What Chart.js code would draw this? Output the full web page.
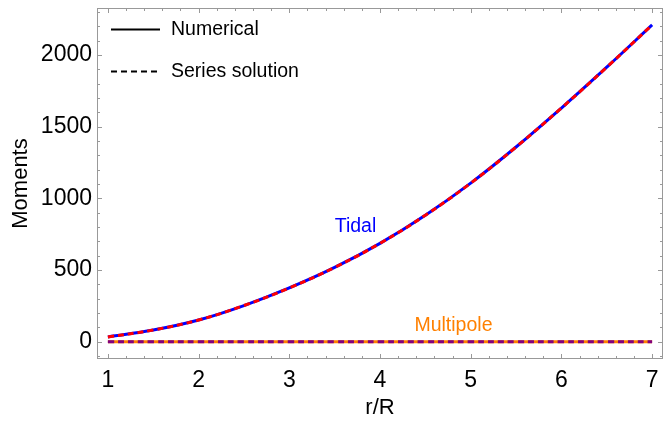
<!DOCTYPE html>
<html>
<head>
<meta charset="utf-8">
<script src="https://cdn.jsdelivr.net/npm/chart.js@4"></script>
<style>
  html, body { margin: 0; padding: 0; background: #fff; }
</style>
</head>
<body>
<canvas id="mychart" width="664" height="423"></canvas>
<script>
// values
const rValues = [1, 1.5, 2, 2.5, 3, 3.5, 4, 4.5, 5, 5.5, 6, 6.5, 7];
const tidalNumerical = [33, 81, 151, 252, 375, 518, 686, 882, 1106, 1358, 1630, 1915, 2210];
const tidalSeries = [33, 81, 151, 252, 375, 518, 686, 882, 1106, 1358, 1630, 1915, 2210];
const multipoleNumerical = [0, 0, 0, 0, 0, 0, 0, 0, 0, 0, 0, 0, 0];
const multipoleSeries = [0, 0, 0, 0, 0, 0, 0, 0, 0, 0, 0, 0, 0];
const xTicks = [1, 2, 3, 4, 5, 6, 7];
const yTicks = [0, 500, 1000, 1500, 2000];
const legendLabels = ['Numerical', 'Series solution'];
const curveLabels = ['Tidal', 'Multipole'];

const FONT = "'Liberation Sans', Arial, sans-serif";
const BLUE = 'rgb(0,0,255)';
const RED = 'rgb(255,0,0)';
const ORANGE = 'rgb(255,128,0)';
const PURPLE = 'rgb(128,0,128)';

function toPoints(ys) {
    return rValues.map((r, i) => ({ x: r, y: ys[i] }));
}

// lower "order" is drawn on top
function line(data, color, dash, order) {
    return {
        data: toPoints(data),
        borderColor: color,
        borderWidth: 3,
        borderDash: dash,
        pointRadius: 0,
        tension: 0.4,
        fill: false,
        order: order
    };
}

// frame with inward ticks, legend and curve labels --
const framePlugin = {
    id: 'framePlugin',
    afterDraw: (chart) => {
        const { ctx, chartArea: a, scales: { x, y } } = chart;
        ctx.save();
        ctx.strokeStyle = '#999';
        ctx.lineWidth = 1;
        ctx.strokeRect(a.left + 0.5, a.top + 0.5, a.right - a.left - 1, a.bottom - a.top - 1);

        ctx.beginPath();
        for (let i = 5; i <= 35; i++) {
            const px = Math.round(x.getPixelForValue(i / 5)) + 0.5;
            const len = (i % 5 === 0) ? 5 : 3;
            ctx.moveTo(px, a.bottom); ctx.lineTo(px, a.bottom - len);
            ctx.moveTo(px, a.top); ctx.lineTo(px, a.top + len);
        }
        for (let v = -100; v <= 2300; v += 100) {
            const py = Math.round(y.getPixelForValue(v)) + 0.5;
            const len = (v % 500 === 0) ? 5 : 3;
            ctx.moveTo(a.left, py); ctx.lineTo(a.left + len, py);
            ctx.moveTo(a.right, py); ctx.lineTo(a.right - len, py);
        }
        ctx.stroke();

        // legend
        ctx.strokeStyle = '#000';
        ctx.lineWidth = 2;
        ctx.beginPath();
        ctx.moveTo(111, 29.5); ctx.lineTo(160, 29.5);
        ctx.stroke();
        ctx.setLineDash([6, 4]);
        ctx.beginPath();
        ctx.moveTo(111, 71.5); ctx.lineTo(160, 71.5);
        ctx.stroke();
        ctx.setLineDash([]);

        ctx.fillStyle = '#000';
        ctx.font = '19.5px ' + FONT;
        ctx.textBaseline = 'middle';
        ctx.textAlign = 'left';
        ctx.fillText(legendLabels[0], 171, 30);
        ctx.fillText(legendLabels[1], 171, 72);

        // curve labels
        ctx.textAlign = 'center';
        ctx.fillStyle = BLUE;
        ctx.fillText(curveLabels[0], x.getPixelForValue(3.73), y.getPixelForValue(805));
        ctx.fillStyle = ORANGE;
        ctx.fillText(curveLabels[1], x.getPixelForValue(4.81), y.getPixelForValue(115));
        ctx.restore();
    }
};

const ctx = document.getElementById('mychart').getContext('2d');

const chart = new Chart(ctx, {
    type: 'line',
    data: {
        datasets: [
            line(tidalNumerical, BLUE, [], 2),
            line(tidalSeries, RED, [6, 4], 1),
            line(multipoleNumerical, ORANGE, [], 4),
            line(multipoleSeries, PURPLE, [6, 4], 3)
        ]
    },
    options: {
        responsive: false,
        animation: false,
        devicePixelRatio: 1,
        layout: { padding: { top: 8, right: 1, left: 0, bottom: 0 } },
        plugins: {
            legend: { display: false },
            tooltip: { enabled: false }
        },
        scales: {
            x: {
                type: 'linear',
                min: 0.88,
                max: 7.12,
                grid: { display: false, drawTicks: false, tickLength: 0 },
                border: { display: false },
                afterBuildTicks: (s) => { s.ticks = xTicks.map(v => ({ value: v })); },
                afterFit: (s) => { s.height = 64; s.paddingLeft = 0; s.paddingRight = 0; },
                ticks: {
                    color: '#000',
                    font: { family: FONT, size: 23 },
                    padding: 8,
                    maxRotation: 0,
                    autoSkip: false,
                    callback: (v) => String(v)
                },
                title: {
                    display: true,
                    text: 'r/R',
                    color: '#000',
                    font: { family: FONT, size: 22 },
                    padding: { top: 0, bottom: 2 }
                }
            },
            y: {
                type: 'linear',
                min: -121,
                max: 2328,
                grid: { display: false, drawTicks: false, tickLength: 0 },
                border: { display: false },
                afterBuildTicks: (s) => { s.ticks = yTicks.map(v => ({ value: v })); },
                afterFit: (s) => { s.width = 97; s.paddingTop = 0; s.paddingBottom = 0; },
                ticks: {
                    color: '#000',
                    font: { family: FONT, size: 23 },
                    padding: 5,
                    autoSkip: false,
                    callback: (v) => String(v)
                },
                title: {
                    display: true,
                    text: 'Moments',
                    color: '#000',
                    font: { family: FONT, size: 22 },
                    padding: { top: 8, bottom: 0 }
                }
            }
        }
    },
    plugins: [framePlugin]
});
</script>
</body>
</html>
